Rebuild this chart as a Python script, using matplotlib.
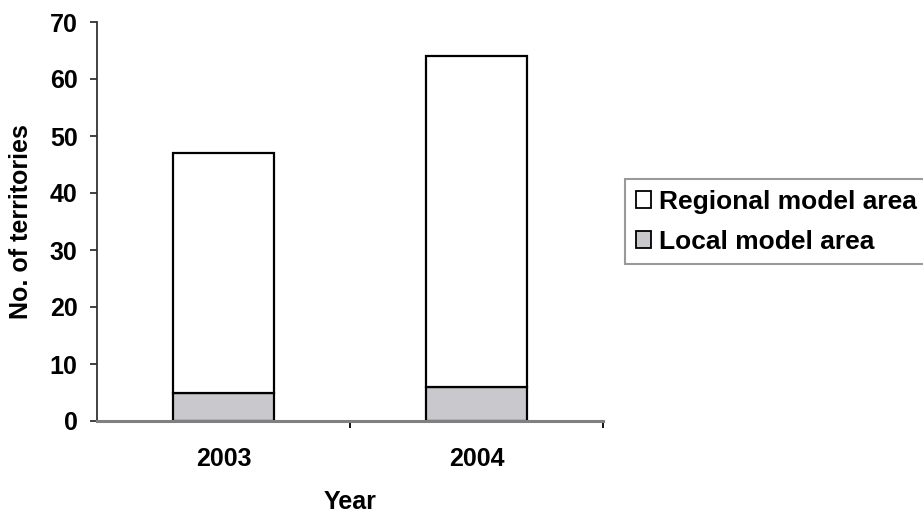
import matplotlib
matplotlib.use("Agg")
import matplotlib.pyplot as plt
from matplotlib.patches import Patch
import numpy as np

years = ["2003", "2004"]
local_area = [5, 6]
regional_total = [47, 64]
regional_area = [t - l for t, l in zip(regional_total, local_area)]

plt.rcParams["font.family"] = ["Liberation Sans", "DejaVu Sans"]
plt.rcParams["font.weight"] = "bold"

fig = plt.figure(figsize=(9.23, 5.16), dpi=100)
W, H = 923, 516
ax = fig.add_axes([97 / W, 1 - 421 / H, (603 - 97) / W, (421 - 22) / H])

x = np.arange(len(years))
local_color = "#C9C9CD"
ax.bar(x, local_area, width=0.4, color=local_color, edgecolor="black", linewidth=1.6, zorder=3)
ax.bar(x, regional_area, bottom=local_area, width=0.4, color="white",
       edgecolor="black", linewidth=1.6, zorder=3)

ax.set_xlim(-0.5, len(years) - 0.5)
ax.set_ylim(0, 70)
ax.set_yticks(np.arange(0, 71, 10))
ax.set_xticks(x)
ax.set_xticklabels(years, fontsize=18, fontweight="bold")
ax.tick_params(axis="x", which="major", length=0, pad=18.5)
ax.set_xticks(np.arange(0.5, len(years) - 0.4, 1.0), minor=True)
ax.tick_params(axis="x", which="minor", length=5, width=1.3, color="black", direction="out")
ax.tick_params(axis="y", length=5, width=1.3, color="#333333", labelsize=18, pad=9)
for lab in ax.get_yticklabels():
    lab.set_fontweight("bold")

for s in ("top", "right"):
    ax.spines[s].set_visible(False)
ax.spines["left"].set_color("#333333")
ax.spines["left"].set_linewidth(1.3)
ax.spines["bottom"].set_color("#808080")
ax.spines["bottom"].set_linewidth(2.2)
ax.spines["bottom"].set_zorder(4)

ax.set_xlabel("Year", fontsize=18, fontweight="bold", labelpad=14)
ax.set_ylabel("No. of territories", fontsize=18, fontweight="bold", labelpad=12)

handles = [Patch(facecolor="white", edgecolor="black", linewidth=1.3, label="Regional model area"),
           Patch(facecolor=local_color, edgecolor="black", linewidth=1.3, label="Local model area")]
leg = fig.legend(handles=handles, loc="upper left", bbox_to_anchor=(625 / W, 1 - 179 / H),
                 frameon=True, fancybox=False, prop={"size": 19, "weight": "bold"},
                 handlelength=0.6, handleheight=0.6, handletextpad=0.27,
                 borderpad=0.4, labelspacing=0.62, borderaxespad=0)
leg.get_frame().set_edgecolor("#808080")
leg.get_frame().set_linewidth(1.5)
for t in leg.get_texts():
    t.set_fontweight("bold")

fig.savefig("out.png", dpi=100)
